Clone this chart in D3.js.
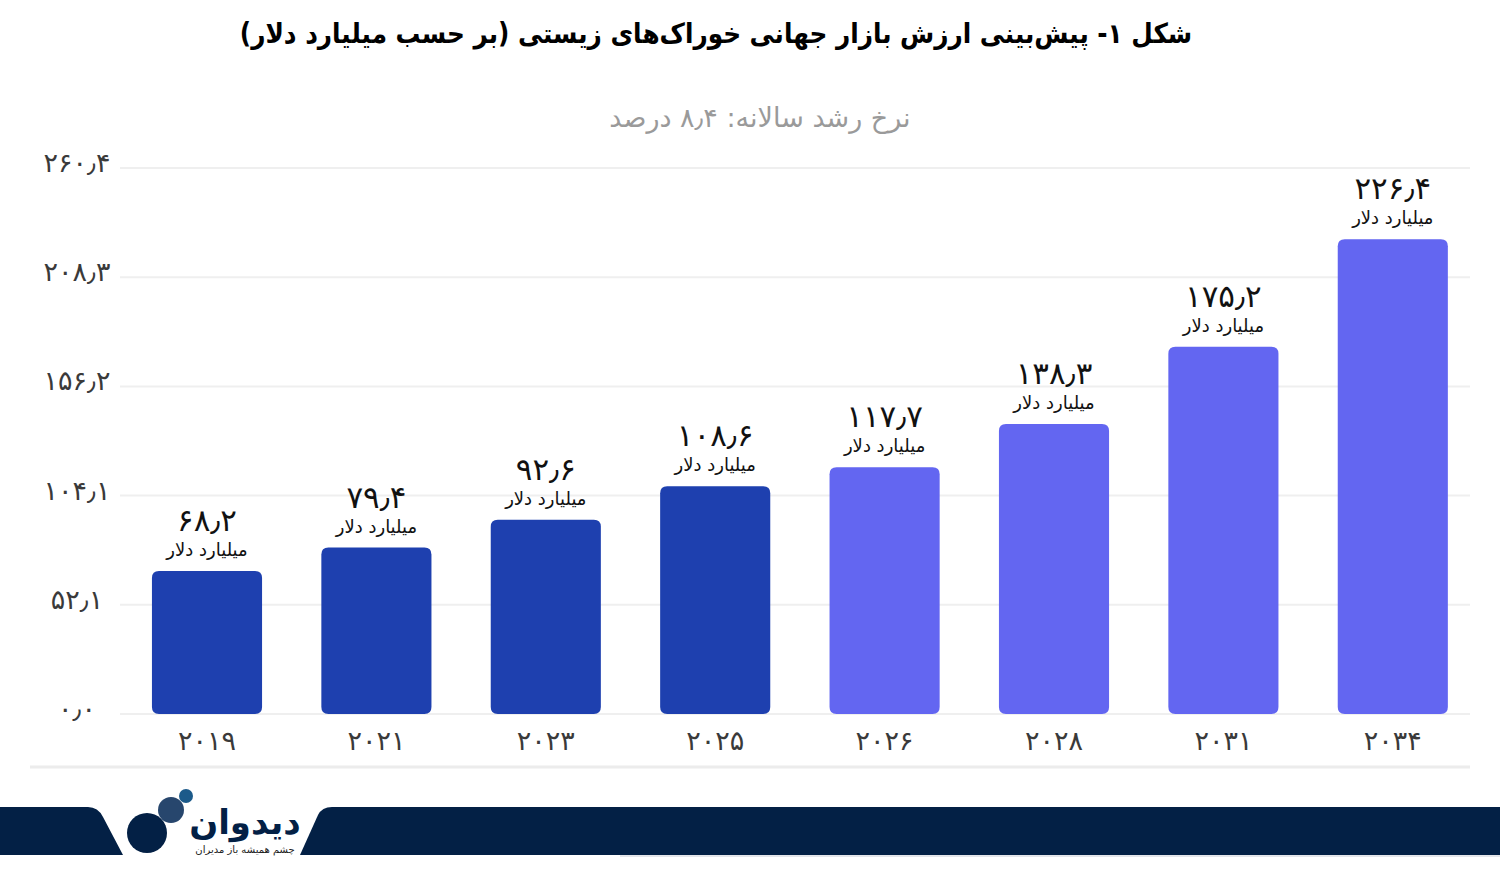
<!DOCTYPE html>
<html><head><meta charset="utf-8">
<script src="https://cdn.jsdelivr.net/npm/d3@7"></script>
<style>
html,body{margin:0;padding:0;background:#fff;}
svg{display:block;font-family:"DejaVu Sans",sans-serif;}
</style></head>
<body>
<script>
const years = ["۲۰۱۹","۲۰۲۱","۲۰۲۳","۲۰۲۵","۲۰۲۶","۲۰۲۸","۲۰۳۱","۲۰۳۴"];
const values = [68.2, 79.4, 92.6, 108.6, 117.7, 138.3, 175.2, 226.4];
const forecast = [false,false,false,false,true,true,true,true];
const tickValues = [0, 52.08, 104.16, 156.24, 208.32, 260.4];
const tickLabels = ["۰٫۰","۵۲٫۱","۱۰۴٫۱","۱۵۶٫۲","۲۰۸٫۳","۲۶۰٫۴"];
const unitLabel = "میلیارد دلار";
const titleText = "شکل ۱- پیش‌بینی ارزش بازار جهانی خوراک‌های زیستی (بر حسب میلیارد دلار)";
const subtitleText = "نرخ رشد سالانه: ۸٫۴ درصد";

const fa = s => String(s).replace(/\d/g, d => "۰۱۲۳۴۵۶۷۸۹"[d]).replace(".", "٫");

const W = 1500, H = 877;
const svg = d3.select("body").append("svg").attr("width", W).attr("height", H);

const x = d3.scaleBand().domain(years).range([122.3, 1477.5]).paddingInner(0.35).paddingOuter(0.175);
const y = d3.scaleLinear().domain([0, 260.4]).range([714, 168]);

// gridlines
svg.append("g").selectAll("line").data(tickValues).join("line")
  .attr("x1", 120).attr("x2", 1470)
  .attr("y1", d => y(d)).attr("y2", d => y(d))
  .attr("stroke", "#efefef").attr("stroke-width", 2);

// y tick labels
svg.append("g").selectAll("text").data(tickValues).join("text")
  .attr("x", 77).attr("y", d => y(d) + 4)
  .attr("text-anchor", "middle").attr("font-size", 27).attr("fill", "#3a3a3a")
  .attr("direction", "rtl")
  .text((d, i) => tickLabels[i]);

// bars
const r = 7;
svg.append("g").selectAll("path").data(values).join("path")
  .attr("d", (d, i) => {
    const x0 = x(years[i]), w = x.bandwidth(), y0 = y(d), y1 = y(0);
    return `M${x0},${y0+r} Q${x0},${y0} ${x0+r},${y0} L${x0+w-r},${y0} Q${x0+w},${y0} ${x0+w},${y0+r} L${x0+w},${y1-r} Q${x0+w},${y1} ${x0+w-r},${y1} L${x0+r},${y1} Q${x0},${y1} ${x0},${y1-r} Z`;
  })
  .attr("fill", (d, i) => forecast[i] ? "#6366f1" : "#1e40af");

// value labels
const lab = svg.append("g").selectAll("g").data(values).join("g")
  .attr("transform", (d, i) => `translate(${x(years[i]) + x.bandwidth()/2},${y(d)})`);
lab.append("text").attr("y", -40).attr("text-anchor", "middle")
  .attr("font-size", 31).attr("fill", "#111").attr("direction", "rtl")
  .text(d => fa(d));
lab.append("text").attr("y", -15).attr("text-anchor", "middle")
  .attr("font-size", 18).attr("fill", "#111").attr("direction", "rtl")
  .text(unitLabel);

// x labels
svg.append("g").selectAll("text").data(years).join("text")
  .attr("x", d => x(d) + x.bandwidth()/2).attr("y", 750)
  .attr("text-anchor", "middle").attr("font-size", 27).attr("fill", "#3a3a3a")
  .text(d => d);

// bottom separator
svg.append("line").attr("x1", 30).attr("x2", 1470).attr("y1", 767).attr("y2", 767)
  .attr("stroke", "#ececec").attr("stroke-width", 3);

// title & subtitle
svg.append("text").attr("x", 716).attr("y", 43).attr("text-anchor", "middle")
  .attr("direction", "rtl").attr("font-size", 27.5).attr("font-weight", "bold").attr("fill", "#000")
  .attr("font-family", "'DejaVu Sans Condensed','DejaVu Sans',sans-serif")
  .text(titleText);
svg.append("text").attr("x", 760).attr("y", 127).attr("text-anchor", "middle")
  .attr("direction", "rtl").attr("font-size", 27).attr("fill", "#9a9a9a")
  .text(subtitleText);

// footer
const navy = "#032045";
svg.append("path").attr("fill", navy)
  .attr("d", "M0,807 L88,807 Q98,807 103,817 L123,855 L0,855 Z");
svg.append("path").attr("fill", navy)
  .attr("d", "M300,855 L318,815 Q322,807 332,807 L1500,807 L1500,855 Z");
svg.append("line").attr("x1", 620).attr("x2", 1500).attr("y1", 856).attr("y2", 856)
  .attr("stroke", "#c8ccd4").attr("stroke-width", 1);
svg.append("circle").attr("cx", 147).attr("cy", 833).attr("r", 20).attr("fill", navy);
svg.append("circle").attr("cx", 171).attr("cy", 810).attr("r", 13).attr("fill", "#27466d");
svg.append("circle").attr("cx", 186).attr("cy", 796).attr("r", 7).attr("fill", "#1c5a8a");
svg.append("text").attr("x", 245).attr("y", 834).attr("text-anchor", "middle")
  .attr("direction", "rtl").attr("font-size", 34).attr("font-weight", "bold").attr("fill", navy)
  .text("دیدوان");
svg.append("text").attr("x", 245).attr("y", 853).attr("text-anchor", "middle")
  .attr("direction", "rtl").attr("font-size", 10).attr("fill", "#222")
  .text("چشم همیشه باز مدیران");
</script>
</body></html>
